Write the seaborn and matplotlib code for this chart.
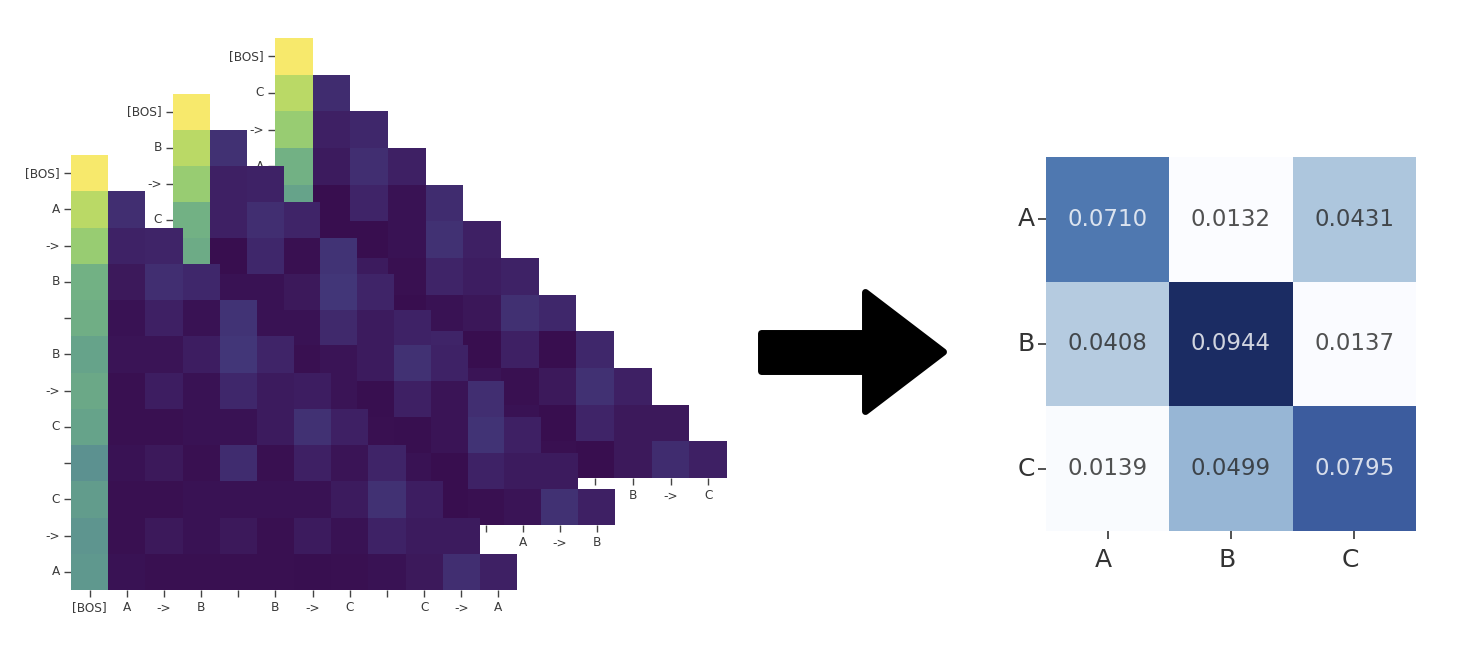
import matplotlib
matplotlib.use('Agg')
import matplotlib.pyplot as plt
import numpy as np
import seaborn as sns
from matplotlib.colors import LinearSegmentedColormap
from matplotlib.patches import Polygon
from matplotlib.transforms import ScaledTranslation

# Token labels for the three attention maps
front_tokens = ['[BOS]', 'A', '->', 'B', ' ', 'B', '->', 'C', ' ', 'C', '->', 'A']
mid_tokens = ['[BOS]', 'B', '->', 'C', ' ', 'C', '->', 'A', ' ', 'A', '->', 'B']
back_tokens = ['[BOS]', 'C', '->', 'A', ' ', 'A', '->', 'B', ' ', 'B', '->', 'C']

# Lower triangles, row by row
front_rows = [
    [1.0],
    [.85, .14],
    [.72, .09, .10],
    [.55, .05, .14, .11],
    [.54, .02, .08, .02, .16],
    [.50, .03, .03, .07, .17, .10],
    [.52, .01, .07, .02, .11, .06, .07],
    [.50, .01, .01, .02, .02, .06, .15, .08],
    [.42, .02, .05, .01, .13, .01, .08, .03, .10],
    [.47, .01, .01, .02, .02, .02, .02, .06, .15, .07],
    [.44, .01, .05, .02, .05, .01, .06, .02, .09, .06, .06],
    [.45, .02, .01, .01, .01, .01, .005, .01, .02, .05, .14, .08],
]
mid_rows = [
    [1.0],
    [.85, .15],
    [.72, .08, .09],
    [.55, .08, .14, .10],
    [.53, .00, .11, .01, .16],
    [.50, .02, .02, .05, .17, .10],
    [.50, .02, .02, .02, .12, .06, .09],
    [.48, .01, .02, .01, .03, .06, .15, .09],
    [.45, .01, .02, .02, .03, .005, .08, .03, .14],
    [.45, .01, .02, .02, .03, .01, .005, .03, .16, .08],
    [.45, .01, .02, .02, .02, .02, .02, .00, .09, .06, .06],
    [.45, .01, .01, .01, .01, .01, .01, .00, .01, .03, .15, .08],
]
back_rows = [
    [1.0],
    [.85, .13],
    [.72, .08, .11],
    [.55, .06, .14, .08],
    [.50, .00, .10, .02, .13],
    [.50, .00, .00, .02, .15, .08],
    [.50, .02, .06, .01, .10, .07, .09],
    [.48, .01, .02, .00, .02, .04, .145, .11],
    [.45, .01, .02, .02, .10, .00, .08, .00, .11],
    [.45, .01, .02, .02, .03, .03, .01, .05, .15, .08],
    [.45, .01, .02, .02, .02, .02, .02, .00, .10, .05, .05],
    [.45, .01, .01, .01, .01, .01, .01, .01, .00, .05, .13, .08],
]

# Right hand heatmap
result_labels = ['A', 'B', 'C']
result_values = [
    [0.0710, 0.0132, 0.0431],
    [0.0408, 0.0944, 0.0137],
    [0.0139, 0.0499, 0.0795],
]

W, H = 1482, 654


def px_axes(fig, left, top, right, bottom):
    ax = fig.add_axes([left / W, 1 - bottom / H, (right - left) / W, (bottom - top) / H])
    ax.patch.set_visible(False)
    return ax


def to_matrix(rows):
    n = len(rows)
    mat = np.full((n, n), np.nan)
    for i, row in enumerate(rows):
        mat[i, :len(row)] = row
    return mat


sns.set_theme(style='white')
plt.rcParams['font.family'] = ['DejaVu Sans']

att_cmap = LinearSegmentedColormap.from_list('att', [
    (0.0, '#380e4f'), (0.08, '#3e2064'), (0.17, '#423678'),
    (0.42, '#5c9190'), (0.50, '#65a28a'), (0.55, '#72b184'),
    (0.72, '#98cc72'), (0.85, '#bad966'), (1.0, '#f7e96c'),
])
res_cmap = LinearSegmentedColormap.from_list('res', [
    (0.0, '#fbfcff'), (0.34, '#b5cbe0'), (0.452, '#97b6d5'),
    (0.712, '#4f78b0'), (0.817, '#3c5d9f'), (1.0, '#1b2c63'),
])

fig = plt.figure(figsize=(W / 100, H / 100), dpi=100, facecolor='white')

# back to front
layers = [
    (back_rows, back_tokens, (275, 38, 727, 478)),
    (mid_rows, mid_tokens, (173, 94, 615, 525)),
    (front_rows, front_tokens, (71, 155, 517, 590)),
]
for rows, tokens, box in layers:
    ax = px_axes(fig, *box)
    sns.heatmap(to_matrix(rows), ax=ax, cmap=att_cmap, vmin=0, vmax=1, cbar=False,
                xticklabels=tokens, yticklabels=tokens)
    ax.tick_params(axis='both', length=5, width=1, color='#444444', labelsize=8.7,
                   labelcolor='#3a3a3a', pad=3, bottom=True, left=True)
    ax.tick_params(axis='x', rotation=0)
    ax.tick_params(axis='y', rotation=0)

ax = px_axes(fig, 1046, 157, 1416, 531)
sns.heatmap(np.array(result_values), ax=ax, cmap=res_cmap, vmin=0.0132, vmax=0.0944, cbar=False,
            annot=True, fmt='.4f', annot_kws={'size': 16.5, 'alpha': 0.8},
            xticklabels=result_labels, yticklabels=result_labels)
ax.tick_params(axis='both', length=6, width=1.2, color='#333333', labelsize=18,
               labelcolor='#333333', bottom=True, left=True)
ax.tick_params(axis='x', pad=6, rotation=0)
ax.tick_params(axis='y', pad=2, rotation=0)
# tick labels sit a little left of their ticks in the original
shift = ScaledTranslation(-0.04, 0, fig.dpi_scale_trans)
for lab in ax.get_xticklabels():
    lab.set_transform(lab.get_transform() + shift)

# Big arrow between the panels
arrow_ax = px_axes(fig, 0, 0, W, H)
arrow_ax.set_xlim(0, W)
arrow_ax.set_ylim(H, 0)
arrow_ax.axis('off')
arrow_ax.add_patch(Polygon(
    [(761.5, 333.5), (865.5, 333.5), (865.5, 292.5), (943.5, 352), (865.5, 411.5),
     (865.5, 371.5), (761.5, 371.5)],
    closed=True, facecolor='black', edgecolor='black', linewidth=5, joinstyle='round'))

fig.savefig('out.png', dpi=100, facecolor='white')
